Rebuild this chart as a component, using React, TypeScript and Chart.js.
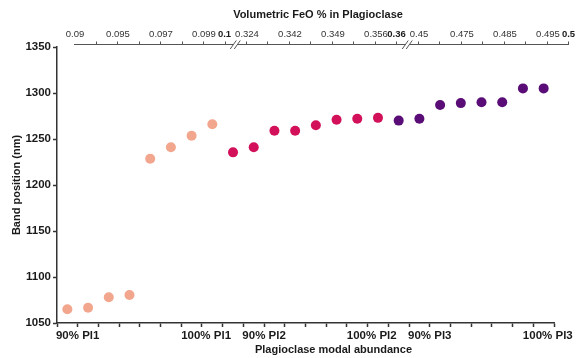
import React, { useEffect, useRef } from 'react';
import { Chart, registerables } from 'chart.js';

Chart.register(...registerables);

// ---- Data ----
const pl1Positions = [0.5, 1.5, 2.5, 3.5, 4.5, 5.5, 6.5, 7.5];
const pl1Values = [1065, 1066.5, 1078, 1080.5, 1228.5, 1241, 1253.5, 1266];
const pl2Positions = [8.5, 9.5, 10.5, 11.5, 12.5, 13.5, 14.5, 15.5];
const pl2Values = [1235.5, 1241, 1259, 1259, 1265, 1271, 1272, 1273];
const pl3Positions = [16.5, 17.5, 18.5, 19.5, 20.5, 21.5, 22.5, 23.5];
const pl3Values = [1270, 1272, 1287, 1289, 1290, 1290, 1305, 1305];

const bottomTickCount = 24;
const bottomLabelPositions = [1, 7.2, 10, 15.2, 18, 23.7];
const bottomLabels = ['90% Pl1', '100% Pl1', '90% Pl2', '100% Pl2', '90% Pl3', '100% Pl3'];

const yMin = 1050;
const yMax = 1350;
const yStep = 50;

const topLabels = [
  '0.09', '', '0.095', '', '0.097', '', '0.099', '0.1',
  '0.324', '', '0.342', '', '0.349', '', '0.356', '0.36',
  '0.45', '', '0.475', '', '0.485', '', '0.495', '0.5',
];
const topBoldIndices = [7, 15, 23];
const topBreaks = [7.5, 15.5];

const topTitle = 'Volumetric FeO % in Plagioclase';
const bottomTitle = 'Plagioclase modal abundance';
const yTitle = 'Band position (nm)';

const colors = { pl1: '#F2A68E', pl2: '#D2115A', pl3: '#5A0C77' };
const FONT = '"Liberation Sans", Arial, Helvetica, sans-serif';

const topAxisPlugin = {
  id: 'topAxis',
  afterDraw(chart: any) {
    const s = chart.scales.x2;
    const ca = chart.chartArea;
    const ctx = chart.ctx as CanvasRenderingContext2D;
    const y = 44;
    ctx.save();
    ctx.strokeStyle = '#555';
    ctx.lineWidth = 1;
    const n = topLabels.length;
    const start = s.getPixelForValue(0);
    const end = s.getPixelForValue(n - 1);
    const gaps = topBreaks.map((b) => s.getPixelForValue(b));
    ctx.beginPath();
    let x0 = start;
    for (const g of gaps) {
      ctx.moveTo(x0, y + 0.5);
      ctx.lineTo(g - 2, y + 0.5);
      x0 = g + 2;
    }
    ctx.moveTo(x0, y + 0.5);
    ctx.lineTo(end, y + 0.5);
    ctx.stroke();
    // tick marks
    ctx.beginPath();
    for (let i = 1; i < n; i++) {
      const px = Math.round(s.getPixelForValue(i)) + 0.5;
      ctx.moveTo(px, y - 2.5);
      ctx.lineTo(px, y + 1);
    }
    ctx.stroke();
    // break marks
    ctx.beginPath();
    for (const g of gaps) {
      for (const dx of [-2, 2]) {
        ctx.moveTo(g + dx - 3, y + 5);
        ctx.lineTo(g + dx + 3, y - 3.5);
      }
    }
    ctx.stroke();
    // labels
    ctx.textAlign = 'center';
    ctx.textBaseline = 'middle';
    for (let i = 0; i < n; i++) {
      if (!topLabels[i]) continue;
      const bold = topBoldIndices.includes(i);
      ctx.font = `${bold ? 'bold ' : ''}9.5px ${FONT}`;
      ctx.fillStyle = bold ? '#1a1a1a' : '#333';
      ctx.fillText(topLabels[i], s.getPixelForValue(i) + (bold ? 0 : 1), 34.5);
    }
    // titles
    ctx.font = `bold 11px ${FONT}`;
    ctx.fillStyle = '#1a1a1a';
    const mid = (ca.left + ca.right) / 2;
    ctx.fillText(topTitle, mid + 12.5, 15);
    ctx.fillText(bottomTitle, mid + 28, 350);
    ctx.restore();
  },
};

function pts(xs: number[], ys: number[]) {
  return xs.map((x, i) => ({ x, y: ys[i] }));
}

export default function App() {
  const ref = useRef<HTMLCanvasElement | null>(null);

  useEffect(() => {
    if (!ref.current) return;
    const tickFont = { family: FONT, size: 11.5, weight: 'bold' as const };
    const chart = new Chart(ref.current, {
      type: 'scatter',
      data: {
        datasets: [
          { label: 'Pl1', data: pts(pl1Positions, pl1Values), backgroundColor: colors.pl1, borderWidth: 0, pointRadius: 5 },
          { label: 'Pl2', data: pts(pl2Positions, pl2Values), backgroundColor: colors.pl2, borderWidth: 0, pointRadius: 5 },
          { label: 'Pl3', data: pts(pl3Positions, pl3Values), backgroundColor: colors.pl3, borderWidth: 0, pointRadius: 5 },
        ],
      },
      options: {
        responsive: false,
        animation: false,
        layout: { padding: { top: 47, right: 27, bottom: 0, left: 0 } },
        plugins: { legend: { display: false }, tooltip: { enabled: false }, title: { display: false } },
        scales: {
          x: {
            type: 'linear',
            position: 'bottom',
            min: 0,
            max: bottomTickCount,
            afterBuildTicks: (scale: any) => {
              const vals = new Set<number>();
              for (let i = 0; i <= bottomTickCount; i++) vals.add(i);
              bottomLabelPositions.forEach((v) => vals.add(v));
              scale.ticks = Array.from(vals).sort((a, b) => a - b).map((v) => ({ value: v }));
            },
            ticks: {
              autoSkip: false,
              maxRotation: 0,
              minRotation: 0,
              padding: 2,
              color: '#1a1a1a',
              font: tickFont,
              callback: (v: any) => {
                const k = bottomLabelPositions.indexOf(Number(v));
                return k >= 0 ? bottomLabels[k] : '';
              },
            },
            grid: {
              drawOnChartArea: false,
              tickLength: 4,
              tickWidth: 1.5,
              tickColor: (c: any) => (c.tick && Number.isInteger(c.tick.value) ? '#333' : 'rgba(0,0,0,0)'),
            },
            border: { display: true, color: '#333', width: 1.5 },
            afterFit: (scale: any) => {
              scale.height = 35;
              scale.paddingLeft = 0;
              scale.paddingRight = 0;
            },
          },
          x2: {
            type: 'linear',
            position: 'top',
            display: false,
            min: -0.791,
            max: 22.326,
          },
          y: {
            type: 'linear',
            min: yMin,
            max: yMax,
            ticks: {
              stepSize: yStep,
              padding: 2,
              color: '#1a1a1a',
              font: tickFont,
              callback: (v: any) => String(v),
            },
            grid: { drawOnChartArea: false, tickLength: 4, tickWidth: 1.5, tickColor: '#333' },
            border: { display: true, color: '#333', width: 1.5 },
            title: {
              display: true,
              text: yTitle,
              color: '#1a1a1a',
              font: { family: FONT, size: 11, weight: 'bold' },
              padding: { top: 10.5, bottom: 0 },
            },
            afterFit: (scale: any) => {
              scale.width = 57;
              scale.paddingTop = 0;
              scale.paddingBottom = 0;
            },
          },
        },
      } as any,
      plugins: [topAxisPlugin],
    });
    return () => chart.destroy();
  }, []);

  return (
    <div style={{ position: 'fixed', left: 0, top: 0, width: 581, height: 358, background: '#fff' }}>
      <canvas ref={ref} width={581} height={358} style={{ display: 'block', width: 581, height: 358 }} />
    </div>
  );
}
